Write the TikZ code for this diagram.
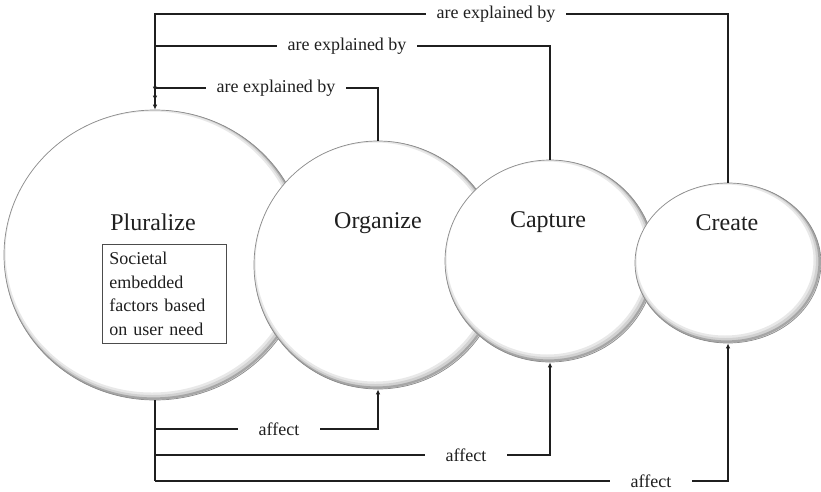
\documentclass[tikz,border=0pt]{standalone}
\usepackage{fontspec}
\setmainfont{Liberation Serif}
\usetikzlibrary{shapes.geometric,arrows.meta}

\tikzset{
  % white disc with a soft inner shadow along its lower right rim
  disc/.style 2 args={ellipse, inner sep=0pt, fill=white,
    minimum width=#1pt, minimum height=#2pt,
    draw=black!45, line width=0.7pt,
    path picture={
      \draw[black!9, line width=9pt]
        ([shift={(-3pt,3pt)}]path picture bounding box.center)
        ellipse [x radius={#1*0.5pt}, y radius={#2*0.5pt}];
      \draw[black!18, line width=5pt]
        ([shift={(-2.5pt,2.5pt)}]path picture bounding box.center)
        ellipse [x radius={#1*0.5pt}, y radius={#2*0.5pt}];
      \draw[black!35, line width=2.2pt]
        ([shift={(-1.5pt,1.5pt)}]path picture bounding box.center)
        ellipse [x radius={#1*0.5pt}, y radius={#2*0.5pt}];
    }},
  title/.style={font=\fontsize{24}{28}\selectfont, text=black!88},
  conn/.style={draw=black!88, line width=1.1pt, -{Latex[length=5pt,width=4.5pt]}},
  lbl/.style={font=\fontsize{18}{22}\selectfont, fill=white, text=black!88,
    inner ysep=2pt},
  explbl/.style={lbl, inner xsep=11pt},
  afflbl/.style={lbl, inner xsep=21pt},
  notebox/.style={draw=black!70, line width=0.6pt, align=left,
    text width=110pt, inner xsep=7pt, inner ysep=8pt,
    font=\fontsize{18}{23.5}\selectfont, text=black!88}
}

\begin{document}
\begin{tikzpicture}[x=1pt, y=-1pt]
  \useasboundingbox (0,0) rectangle (821,491);

  % the four stages, each overlapping the one to its left
  \node[disc={302}{290}] (plur) at (155,255) {};
  \node[disc={248}{248}] (org)  at (378,265) {};
  \node[disc={210}{202}] (cap)  at (550,261) {};
  \node[disc={186}{160}] (cre)  at (728,263) {};

  \node[title] (plurT) at (153,222) {Pluralize};
  \node[title] (orgT)  at (378,223) {Organize};
  \node[title] (capT)  at (548,222) {Capture};
  \node[title] (creT)  at (727,223) {Create};

  \node[notebox, anchor=north west] (need) at (102,244)
    {Societal\\embedded\\factors based\\on user need};

  % junction points on the shared vertical lines
  \coordinate (t1) at (155,14);
  \coordinate (t2) at (155,46);
  \coordinate (t3) at (155,88);
  \coordinate (b1) at (155,429);
  \coordinate (b2) at (155,455);
  \coordinate (b3) at (155,481);

  % "are explained by" links into Pluralize
  \draw[conn] (cre.north) |- (t1) -- (plur.north);
  \draw[conn] (cap.north) |- (t2) -- ([yshift=9pt]plur.north);
  \draw[conn] (org.north) |- (t3) -- ([yshift=18pt]plur.north);

  % "affect" links out of Pluralize
  \draw[draw=black!88, line width=1.1pt] (plur.south) -- (b3);
  \draw[conn] (b1) -| (org.south);
  \draw[conn] (b2) -| (cap.south);
  \draw[conn] (b3) -| (cre.south);

  \node[explbl] (e1) at (496,14) {are explained by};
  \node[explbl] (e2) at (347,46) {are explained by};
  \node[explbl] (e3) at (276,88) {are explained by};

  \node[afflbl] (a1) at (279,429) {affect};
  \node[afflbl] (a2) at (466,455) {affect};
  \node[afflbl] (a3) at (651,481) {affect};
\end{tikzpicture}
\end{document}
